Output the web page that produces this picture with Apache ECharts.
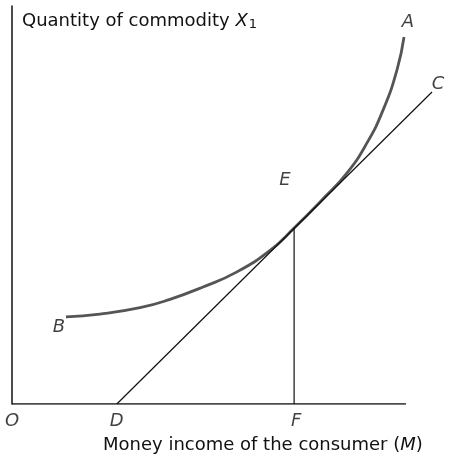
<!DOCTYPE html>
<html>
<head>
	<meta charset="utf-8" />
	<script src="https://cdn.jsdelivr.net/npm/echarts@6/dist/echarts.min.js"></script>
</head>
<body style="margin:0">
	<div id="main" style="width:451px;height:460px;"></div>
	<script type="text/javascript">
		// Engel curve B-E-A, tangent D-E-C, vertical from E down to F
		var curveX = [13.7, 22.3, 32.5, 40.1, 48.5, 57.1, 65.5, 71.6, 78.9, 85.0, 90.1, 94.2, 97.7, 99.5];
		var curveY = [21.9, 22.6, 24.2, 26.3, 29.4, 33.2, 38.6, 44.2, 51.5, 58.0, 65.6, 73.9, 83.9, 92.2];
		var tangentX = [26.6, 106.6];
		var tangentY = [0, 78.4];
		var dropX = [71.6, 71.6];
		var dropY = [0, 44.2];
		var baseX = [0, 100];
		var baseY = [0, 0];
		var pointNames = ['A', 'C', 'E', 'B', 'O', 'D', 'F'];
		var pointX = [100.5, 108.1, 69.3, 11.9, 0, 26.6, 72.1];
		var pointY = [96.0, 80.4, 56.3, 19.3, -4.3, -4.3, -4.3];

		var zip = function (xs, ys) { return xs.map(function (x, i) { return [x, ys[i]]; }); };
		var font = 'DejaVu Sans';
		var ink = '#111';

		var myChart = echarts.init(document.getElementById('main'));
		var option = {
			animation: false,
			grid: { left: 12, top: 6, right: 5.6, bottom: 56 },
			xAxis: {
				type: 'value', min: 0, max: 110,
				axisLine: { show: false },
				axisTick: { show: false }, axisLabel: { show: false }, splitLine: { show: false }
			},
			yAxis: {
				type: 'value', min: 0, max: 100,
				axisLine: { show: true, lineStyle: { color: '#111', width: 1.5 } },
				axisTick: { show: false }, axisLabel: { show: false }, splitLine: { show: false }
			},
			graphic: [
				{
					type: 'text', left: 22, top: 12,
					style: {
						text: 'Quantity of commodity {i|X}{s|1}',
						font: '18px ' + font, fill: ink,
						rich: {
							i: { fontStyle: 'italic', fontSize: 18, fontFamily: font, fill: ink },
							s: { fontSize: 13, fontFamily: font, fill: ink, padding: [8, 0, 0, 1] }
						}
					}
				},
				{
					type: 'text', left: 103, top: 436,
					style: {
						text: 'Money income of the consumer ({i|M})',
						font: '18px ' + font, fill: ink,
						rich: { i: { fontStyle: 'italic', fontSize: 18, fontFamily: font, fill: ink } }
					}
				}
			],
			series: [
				{
					type: 'line', data: zip(baseX, baseY), symbol: 'none',
					lineStyle: { color: '#111', width: 1.5 }
				},
				{
					type: 'line', data: zip(curveX, curveY), smooth: 0.5, symbol: 'none',
					lineStyle: { color: '#555', width: 2.8 }
				},
				{
					type: 'line', data: zip(tangentX, tangentY), symbol: 'none',
					lineStyle: { color: '#111', width: 1.2 }
				},
				{
					type: 'line', data: zip(dropX, dropY), symbol: 'none',
					lineStyle: { color: '#111', width: 1.2 }
				},
				{
					type: 'scatter', symbolSize: 0, clip: false,
					data: pointNames.map(function (n, i) { return { name: n, value: [pointX[i], pointY[i]] }; }),
					label: {
						show: true, position: 'inside', formatter: '{b}',
						fontFamily: font, fontStyle: 'italic', fontSize: 18, color: ink,
						textBorderWidth: 0
					}
				}
			]
		};
		myChart.setOption(option);
	</script>
</body>
</html>
